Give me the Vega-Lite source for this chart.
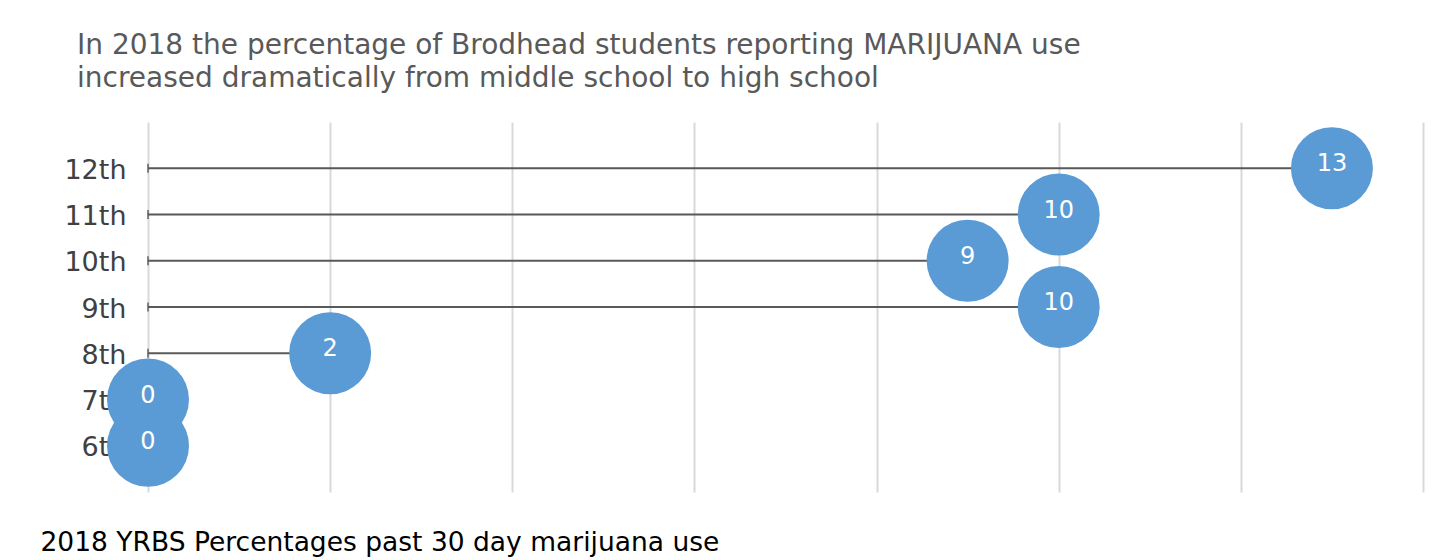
{
  "$schema": "https://vega.github.io/schema/vega-lite/v6.json",
  "width": 1275,
  "height": 370,
  "autosize": {"type": "none"},
  "padding": {"left": 148, "top": 122, "right": 30, "bottom": 68},
  "background": "white",
  "config": {"view": {"stroke": null}},
  "title": {
    "text": ["In 2018 the percentage of Brodhead students reporting MARIJUANA use", "increased dramatically from middle school to high school"],
    "anchor": "start",
    "frame": "group",
    "orient": "top",
    "dx": -71,
    "offset": 1,
    "baseline": "bottom",
    "font": "DejaVu Sans",
    "fontSize": 28,
    "fontWeight": "normal",
    "color": "#595959",
    "lineHeight": 33
  },
  "data": {
    "values": [
      {"grade": "12th", "pct": 13},
      {"grade": "11th", "pct": 10},
      {"grade": "10th", "pct": 9},
      {"grade": "9th", "pct": 10},
      {"grade": "8th", "pct": 2},
      {"grade": "7th", "pct": 0},
      {"grade": "6th", "pct": 0}
    ]
  },
  "encoding": {
    "y": {
      "field": "grade",
      "type": "nominal",
      "sort": ["12th", "11th", "10th", "9th", "8th", "7th", "6th"],
      "scale": {"type": "point", "padding": 1},
      "axis": {
        "title": null,
        "domain": false,
        "ticks": false,
        "grid": false,
        "labelFont": "DejaVu Sans",
        "labelFontSize": 27,
        "labelColor": "#404040",
        "labelPadding": 22,
        "labelBaseline": "middle",
        "labelOffset": 2
      }
    }
  },
  "layer": [
    {
      "mark": {"type": "rule", "color": "#595959", "strokeWidth": 2},
      "encoding": {
        "x": {
          "field": "pct",
          "type": "quantitative",
          "scale": {"domain": [0, 14], "nice": false, "zero": true},
          "axis": {
            "values": [0, 2, 4, 6, 8, 10, 12, 14],
            "labels": false,
            "ticks": false,
            "domain": false,
            "grid": true,
            "gridColor": "#D9D9D9",
            "gridWidth": 2,
            "title": "2018 YRBS Percentages past 30 day marijuana use",
            "titleAnchor": "start",
            "titleAlign": "left",
            "titleX": -108,
            "titleY": 58,
            "titleBaseline": "alphabetic",
            "titleFont": "DejaVu Sans",
            "titleFontSize": 26.5,
            "titleFontWeight": "normal",
            "titleColor": "#000000"
          }
        },
        "x2": {"datum": 0}
      }
    },
    {
      "mark": {"type": "tick", "orient": "vertical", "color": "#595959", "thickness": 2, "size": 9},
      "encoding": {
        "x": {"datum": 0, "type": "quantitative"}
      }
    },
    {
      "mark": {"type": "circle", "color": "#5B9BD5", "opacity": 1, "size": 6724},
      "encoding": {
        "x": {"field": "pct", "type": "quantitative"}
      }
    },
    {
      "mark": {"type": "text", "color": "white", "font": "DejaVu Sans", "fontSize": 24, "baseline": "middle", "dy": -4},
      "encoding": {
        "x": {"field": "pct", "type": "quantitative"},
        "text": {"field": "pct", "type": "quantitative"}
      }
    }
  ]
}
